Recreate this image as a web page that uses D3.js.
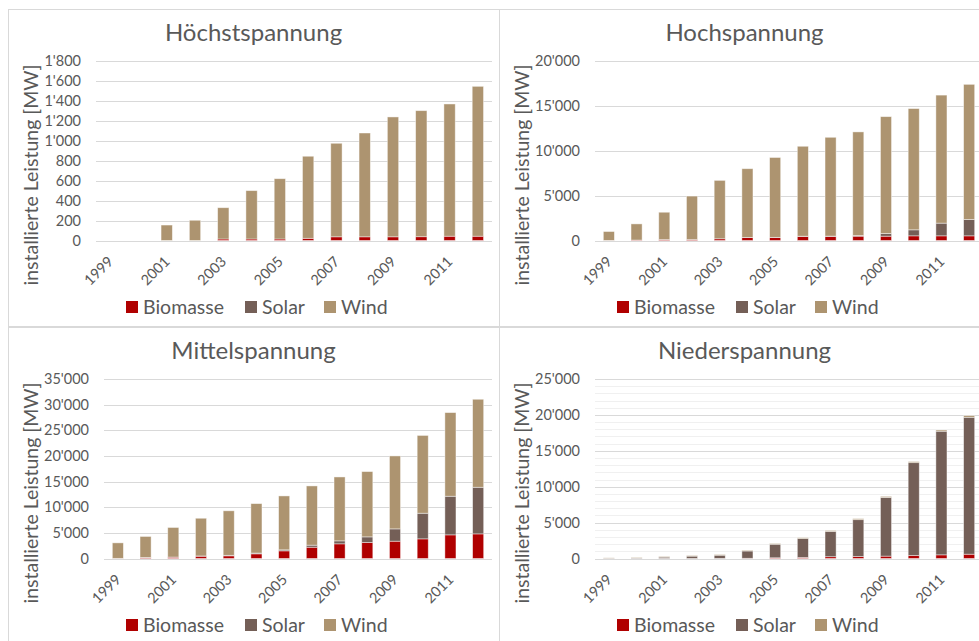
<!DOCTYPE html>
<html><head><meta charset="utf-8">
<script src="https://cdn.jsdelivr.net/npm/d3@7"></script>
<style>
body{margin:0;background:#fff;overflow:hidden;}
svg{display:block;}
text{font-family:Lato, "Open Sans", sans-serif; fill:#595959;}
</style>
</head><body>
<svg id="chart" width="979" height="641"></svg>
<script>
// ---------- data ----------
const years = [1999,2000,2001,2002,2003,2004,2005,2006,2007,2008,2009,2010,2011,2012];
const tickYears = [1999,2001,2003,2005,2007,2009,2011];
const seriesNames = ["Biomasse","Solar","Wind"];
const seriesColors = ["#B00000","#745F57","#AD9470"];
const axisTitle = "installierte Leistung [MW]";

const hoechstTitle = "Höchstspannung";
const hoechstBiomasse = [0,0,0,0,15,15,15,22,37,37,37,38,43,43];
const hoechstSolar    = [0,0,0,0,0,0,0,0,0,0,0,0,0,0];
const hoechstWind     = [0,0,155,203,314,485,605,823,938,1041,1202,1264,1326,1503];
const hoechstTicks    = [0,200,400,600,800,1000,1200,1400,1600,1800];

const hochTitle = "Hochspannung";
const hochBiomasse = [10,50,100,100,190,330,330,450,450,480,480,520,520,520];
const hochSolar    = [0,0,0,0,0,10,20,30,40,70,300,670,1415,1820];
const hochWind     = [990,1800,3050,4850,6510,7660,8900,10020,11010,11550,13020,13510,14265,15060];
const hochTicks    = [0,5000,10000,15000,20000];

const mittelTitle = "Mittelspannung";
const mittelBiomasse = [30,195,260,455,520,910,1490,2200,2860,3115,3375,3830,4610,4800];
const mittelSolar    = [0,10,20,40,100,150,200,400,580,1100,2400,5000,7530,9090];
const mittelWind     = [3020,4095,5770,7355,8680,9640,10510,11550,12460,12735,14225,15170,16310,17160];
const mittelTicks    = [0,5000,10000,15000,20000,25000,30000,35000];

const niederTitle = "Niederspannung";
const niederBiomasse = [0,0,0,0,10,30,100,150,250,280,330,420,510,600];
const niederSolar    = [40,70,190,330,450,1020,1890,2630,3520,5130,8170,12930,17220,19070];
const niederWind     = [50,70,90,90,100,100,110,120,130,140,150,150,170,230];
const niederTicks    = [0,5000,10000,15000,20000,25000];
const niederMinorTicks = [1000,2000,3000,4000,6000,7000,8000,9000,11000,12000,13000,14000,16000,17000,18000,19000,21000,22000,23000,24000];

// ---------- layout ----------
const panels = [
  {title:hoechstTitle, bio:hoechstBiomasse, sol:hoechstSolar, wind:hoechstWind, ticks:hoechstTicks, minor:[], px:8,   py:9,   plotLeft:88},
  {title:hochTitle,    bio:hochBiomasse,    sol:hochSolar,    wind:hochWind,    ticks:hochTicks,    minor:[], px:499, py:9,   plotLeft:96},
  {title:mittelTitle,  bio:mittelBiomasse,  sol:mittelSolar,  wind:mittelWind,  ticks:mittelTicks,  minor:[], px:8,   py:327, plotLeft:96},
  {title:niederTitle,  bio:niederBiomasse,  sol:niederSolar,  wind:niederWind,  ticks:niederTicks,  minor:niederMinorTicks, px:499, py:327, plotLeft:96}
];
const PW = 491, PH = 317;
const plotTop = 52, plotBottom = 231.5, plotRightPad = 7;

const fmt = d3.formatLocale({decimal:".", thousands:"'", grouping:[3], currency:["",""]}).format(",d");
const svg = d3.select("#chart");

panels.forEach(p => {
  const g = svg.append("g").attr("transform", `translate(${p.px},${p.py})`);
  g.append("rect").attr("x",0.5).attr("y",0.5).attr("width",PW).attr("height",PH)
    .attr("fill","#fff").attr("stroke","#D9D9D9").attr("stroke-width",1);

  const x0 = p.plotLeft, x1 = PW - plotRightPad;
  const x = d3.scaleBand().domain(years).range([x0, x1]).paddingInner(0.6).paddingOuter(0.3);
  const y = d3.scaleLinear().domain([0, d3.max(p.ticks)]).range([plotBottom, plotTop]);

  // minor gridlines
  g.append("g").selectAll("line").data(p.minor).join("line")
    .attr("x1",x0).attr("x2",x1).attr("y1",d=>Math.round(y(d))+0.5).attr("y2",d=>Math.round(y(d))+0.5)
    .attr("stroke","#F0F0F0").attr("stroke-width",1);
  // major gridlines
  g.append("g").selectAll("line").data(p.ticks).join("line")
    .attr("x1",x0).attr("x2",x1).attr("y1",d=>Math.round(y(d))+0.5).attr("y2",d=>Math.round(y(d))+0.5)
    .attr("stroke","#D9D9D9").attr("stroke-width",1);

  // y tick labels
  g.append("g").selectAll("text").data(p.ticks).join("text")
    .attr("x", x0 - 15).attr("y", d=>y(d)).attr("dy","0.35em")
    .attr("text-anchor","end").style("font-size","14.5px").text(d=>fmt(d));

  // stacked bars
  const rows = years.map((yr,i)=>({year:yr, Biomasse:p.bio[i], Solar:p.sol[i], Wind:p.wind[i]}));
  const stack = d3.stack().keys(seriesNames)(rows);
  g.append("g").selectAll("g").data(stack).join("g")
    .attr("fill",(d,i)=>seriesColors[i])
    .selectAll("rect").data(d=>d).join("rect")
      .attr("x",d=>x(d.data.year)).attr("width",x.bandwidth())
      .attr("y",d=>y(d[1])).attr("height",d=>Math.max(0,y(d[0])-y(d[1])))
      .attr("stroke","#fff").attr("stroke-opacity",0.55).attr("stroke-width",0.8);

  // x tick labels
  g.append("g").selectAll("text").data(tickYears).join("text")
    .attr("text-anchor","end")
    .attr("transform", d=>`translate(${x(d)+x.bandwidth()/2+4},${plotBottom+22}) rotate(-45)`)
    .style("font-size","14.5px").text(d=>d);

  // title
  g.append("text").attr("x",PW/2).attr("y",32).attr("text-anchor","middle")
    .style("font-size","24px").text(p.title);

  // axis title
  g.append("text").attr("transform",`translate(30,${166}) rotate(-90)`)
    .attr("text-anchor","middle").style("font-size","19.5px").text(axisTitle);

  // legend
  const legendX = [118, 237, 316];
  const lg = g.append("g").attr("transform",`translate(0,298)`);
  seriesNames.forEach((s,i)=>{
    lg.append("rect").attr("x",legendX[i]).attr("y",-6).attr("width",12).attr("height",12).attr("fill",seriesColors[i]);
    lg.append("text").attr("x",legendX[i]+17).attr("y",0).attr("dy","0.35em").style("font-size","19.5px").text(s);
  });
});
</script>
</body></html>
